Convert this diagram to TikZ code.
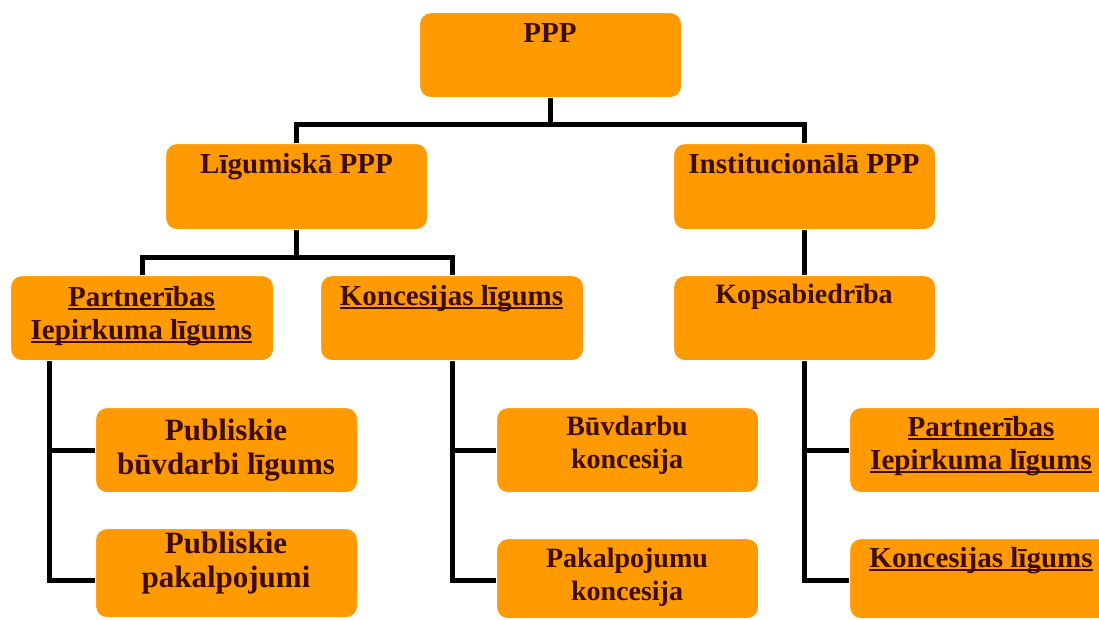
\documentclass[tikz,border=0pt]{standalone}
\usepackage{fontspec}
\setmainfont{Liberation Serif}
\usetikzlibrary{calc,backgrounds}
\definecolor{boxorange}{HTML}{FF9A00}
\definecolor{txtbrown}{HTML}{3D0C02}
\newcommand{\ulx}[1]{\setbox0=\hbox{#1}\rlap{\rule[-3.5pt]{\wd0}{1.8pt}}\box0}
\newcommand{\tstrut}{\rule{0pt}{22pt}}
\tikzset{
  box/.style={draw=white, line width=1.2pt, fill=boxorange, rounded corners=11pt,
    minimum width=262pt, minimum height=85pt, inner sep=0pt, anchor=north west},
  txt/.style={align=center, inner sep=0pt, anchor=north, text=txtbrown,
    font=\fontsize{29}{33.5}\selectfont\bfseries},
  bigtxt/.style={txt, font=\fontsize{31}{34}\selectfont\bfseries},
  midtxt/.style={txt, font=\fontsize{28}{33}\selectfont\bfseries},
  conn/.style={draw=black, line width=5pt, line cap=butt, line join=miter}
}
\begin{document}
\begin{tikzpicture}[x=1pt,y=-1pt]
\useasboundingbox (0,0) rectangle (1099,619);
\clip (0,0) rectangle (1099,619);
% boxes
\node[box] (ppp) at (419,12) {};
\node[box, minimum height=86pt] (lig) at (165,143) {};
\node[box, minimum height=86pt] (inst) at (673,143) {};
\node[box, minimum width=263pt] (partn) at (10,275) {};
\node[box, minimum width=263pt] (kon) at (320,275) {};
\node[box] (kop) at (673,275) {};
\node[box] (pub1) at (95,407) {};
\node[box, minimum height=89pt] (pub2) at (95,528) {};
\node[box] (buv) at (496,407) {};
\node[box, minimum height=80pt] (pak) at (496,538) {};
\node[box, minimum width=264pt] (rpart) at (849,407) {};
\node[box, minimum width=264pt, minimum height=80pt] (rkon) at (849,538) {};
% texts (anchor north = first baseline - 22)
\node[txt] (t-ppp) at (550,20) {\tstrut PPP};
\node[txt] (t-lig) at (296.5,151) {\tstrut Līgumiskā PPP};
\node[txt] (t-inst) at (804,151) {\tstrut Institucionālā PPP};
\node[txt] (t-partn) at (141.5,284) {\tstrut\ulx{Partnerības}\\\ulx{Iepirkuma līgums}};
\node[txt] (t-kon) at (451.5,283) {\tstrut\ulx{Koncesijas līgums}};
\node[midtxt] (t-kop) at (804,281) {\tstrut Kopsabiedrība};
\node[bigtxt] (t-pub1) at (226,418) {\tstrut Publiskie\\būvdarbi līgums};
\node[bigtxt] (t-pub2) at (226,531) {\tstrut Publiskie\\pakalpojumi};
\node[midtxt] (t-buv) at (627,413) {\tstrut Būvdarbu\\koncesija};
\node[midtxt] (t-pak) at (627,545) {\tstrut Pakalpojumu\\koncesija};
\node[txt] (t-rpart) at (981,414) {\tstrut\ulx{Partnerības}\\\ulx{Iepirkuma līgums}};
\node[txt] (t-rkon) at (981,545) {\tstrut\ulx{Koncesijas līgums}};
% connectors
\begin{scope}[on background layer]
\coordinate (j1) at ($(ppp.south)+(0,26)$);
\draw[conn] (ppp.south) -- (j1);
\draw[conn] (lig.north) |- (j1) -| (inst.north);
\coordinate (j2) at ($(lig.south)+(0,27)$);
\draw[conn] (lig.south) -- (j2);
\draw[conn] (partn.north) |- (j2) -| (kon.north);
\draw[conn] (inst.south) -- (kop.north);
\coordinate (sL) at ($(partn.south west)+(39,0)$);
\draw[conn] (sL) |- ($(pub2.north west)+(0,52)$);
\draw[conn] (pub1.west) -- (pub1.west -| sL);
\draw[conn] (kon.south) |- ($(pak.north west)+(0,42)$);
\draw[conn] (buv.west) -- (buv.west -| kon.south);
\draw[conn] (kop.south) |- ($(rkon.north west)+(0,42)$);
\draw[conn] (rpart.west) -- (rpart.west -| kop.south);
\end{scope}
\end{tikzpicture}
\end{document}
